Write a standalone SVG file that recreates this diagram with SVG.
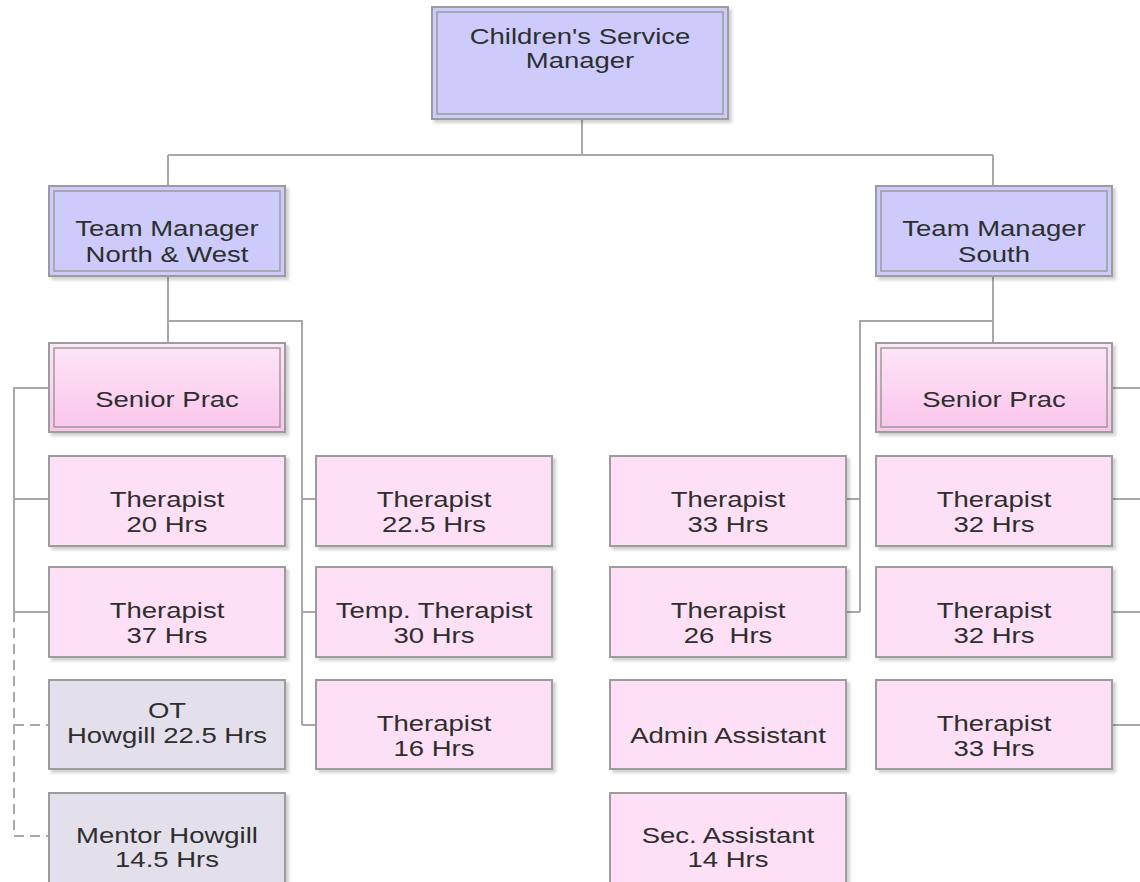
<svg xmlns="http://www.w3.org/2000/svg" width="1140" height="882" viewBox="0 0 1140 882">
<defs>
<filter id="sh" x="-5%" y="-5%" width="115%" height="120%">
<feDropShadow dx="3" dy="3" stdDeviation="1.5" flood-color="#000" flood-opacity="0.18"/>
</filter>
<linearGradient id="pinkg" x1="0" y1="0" x2="0" y2="1">
<stop offset="0" stop-color="#fde6f7"/>
<stop offset="1" stop-color="#fbc4ec"/>
</linearGradient>
</defs>
<style>
.blue{fill:#cdcbfb;stroke:#9c9c9c;stroke-width:2}
.blin{fill:none;stroke:#9c9c9c;stroke-width:1.5}
.pink{fill:#fde0f5;stroke:#9c9c9c;stroke-width:2}
.sp{fill:url(#pinkg);stroke:#9c9c9c;stroke-width:2}
.gray{fill:#e3e0ec;stroke:#9c9c9c;stroke-width:2}
.t{font-family:"Liberation Sans",Arial,sans-serif;font-size:22px;fill:#2e2e2e;text-anchor:middle}
.c{fill:none;stroke:#a8a8a8;stroke-width:2}
.d{fill:none;stroke:#a8a8a8;stroke-width:2;stroke-dasharray:10 6}
</style>
<rect width="1140" height="882" fill="#fff"/>
<g id="connectors">
<path class="c" d="M582 119V155M168 155H993M168 155V186M993 155V186"/>
<path class="c" d="M168 276V343M168 321H302V725M302 499H316M302 612H316M302 725H316"/>
<path class="c" d="M49 388H14V612M14 499H49M14 612H49"/>
<path class="d" d="M14 612V836M14 725H49M14 836H49"/>
<path class="c" d="M993 276V343M993 321H860V612M846 499H860M846 612H860"/>
<path class="c" d="M1112 388H1140M1112 499H1140M1112 612H1140M1112 725H1140"/>
</g>
<g id="n-csm">
<rect class="blue" x="432" y="7" width="296" height="112" filter="url(#sh)"/>
<rect class="blin" x="437" y="12" width="286" height="102"/>
<g transform="translate(580,0) scale(1.25,1)"><text class="t" x="0" y="44">Children's Service</text><text class="t" x="0" y="68">Manager</text></g>
</g>
<g id="n-tmnw">
<rect class="blue" x="49" y="186" width="236" height="90" filter="url(#sh)"/>
<rect class="blin" x="54" y="191" width="226" height="80"/>
<g transform="translate(167,0) scale(1.25,1)"><text class="t" x="0" y="236">Team Manager</text><text class="t" x="0" y="262">North &amp; West</text></g>
</g>
<g id="n-tms">
<rect class="blue" x="876" y="186" width="236" height="90" filter="url(#sh)"/>
<rect class="blin" x="881" y="191" width="226" height="80"/>
<g transform="translate(994,0) scale(1.25,1)"><text class="t" x="0" y="236">Team Manager</text><text class="t" x="0" y="262">South</text></g>
</g>
<g id="n-sp1">
<rect class="sp" x="49" y="343" width="236" height="89" filter="url(#sh)"/>
<rect class="blin" x="54" y="348" width="226" height="79"/>
<g transform="translate(167,0) scale(1.25,1)"><text class="t" x="0" y="407">Senior Prac</text></g>
</g>
<g id="n-sp2">
<rect class="sp" x="876" y="343" width="236" height="89" filter="url(#sh)"/>
<rect class="blin" x="881" y="348" width="226" height="79"/>
<g transform="translate(994,0) scale(1.25,1)"><text class="t" x="0" y="407">Senior Prac</text></g>
</g>
<g id="n-a1">
<rect class="pink" x="49" y="456" width="236" height="90" filter="url(#sh)"/>
<g transform="translate(167,0) scale(1.25,1)"><text class="t" x="0" y="507">Therapist</text><text class="t" x="0" y="532">20 Hrs</text></g>
</g>
<g id="n-a2">
<rect class="pink" x="49" y="567" width="236" height="90" filter="url(#sh)"/>
<g transform="translate(167,0) scale(1.25,1)"><text class="t" x="0" y="618">Therapist</text><text class="t" x="0" y="643">37 Hrs</text></g>
</g>
<g id="n-a3">
<rect class="gray" x="49" y="680" width="236" height="89" filter="url(#sh)"/>
<g transform="translate(167,0) scale(1.25,1)"><text class="t" x="0" y="718">OT</text><text class="t" x="0" y="743">Howgill 22.5 Hrs</text></g>
</g>
<g id="n-a4">
<rect class="gray" x="49" y="793" width="236" height="95" filter="url(#sh)"/>
<g transform="translate(167,0) scale(1.25,1)"><text class="t" x="0" y="843">Mentor Howgill</text><text class="t" x="0" y="867">14.5 Hrs</text></g>
</g>
<g id="n-b1">
<rect class="pink" x="316" y="456" width="236" height="90" filter="url(#sh)"/>
<g transform="translate(434,0) scale(1.25,1)"><text class="t" x="0" y="507">Therapist</text><text class="t" x="0" y="532">22.5 Hrs</text></g>
</g>
<g id="n-b2">
<rect class="pink" x="316" y="567" width="236" height="90" filter="url(#sh)"/>
<g transform="translate(434,0) scale(1.25,1)"><text class="t" x="0" y="618">Temp. Therapist</text><text class="t" x="0" y="643">30 Hrs</text></g>
</g>
<g id="n-b3">
<rect class="pink" x="316" y="680" width="236" height="89" filter="url(#sh)"/>
<g transform="translate(434,0) scale(1.25,1)"><text class="t" x="0" y="731">Therapist</text><text class="t" x="0" y="756">16 Hrs</text></g>
</g>
<g id="n-c1">
<rect class="pink" x="610" y="456" width="236" height="90" filter="url(#sh)"/>
<g transform="translate(728,0) scale(1.25,1)"><text class="t" x="0" y="507">Therapist</text><text class="t" x="0" y="532">33 Hrs</text></g>
</g>
<g id="n-c2">
<rect class="pink" x="610" y="567" width="236" height="90" filter="url(#sh)"/>
<g transform="translate(728,0) scale(1.25,1)"><text class="t" x="0" y="618">Therapist</text><text class="t" x="0" y="643" xml:space="preserve">26  Hrs</text></g>
</g>
<g id="n-c3">
<rect class="pink" x="610" y="680" width="236" height="89" filter="url(#sh)"/>
<g transform="translate(728,0) scale(1.25,1)"><text class="t" x="0" y="743">Admin Assistant</text></g>
</g>
<g id="n-c4">
<rect class="pink" x="610" y="793" width="236" height="95" filter="url(#sh)"/>
<g transform="translate(728,0) scale(1.25,1)"><text class="t" x="0" y="843">Sec. Assistant</text><text class="t" x="0" y="867">14 Hrs</text></g>
</g>
<g id="n-d1">
<rect class="pink" x="876" y="456" width="236" height="90" filter="url(#sh)"/>
<g transform="translate(994,0) scale(1.25,1)"><text class="t" x="0" y="507">Therapist</text><text class="t" x="0" y="532">32 Hrs</text></g>
</g>
<g id="n-d2">
<rect class="pink" x="876" y="567" width="236" height="90" filter="url(#sh)"/>
<g transform="translate(994,0) scale(1.25,1)"><text class="t" x="0" y="618">Therapist</text><text class="t" x="0" y="643">32 Hrs</text></g>
</g>
<g id="n-d3">
<rect class="pink" x="876" y="680" width="236" height="89" filter="url(#sh)"/>
<g transform="translate(994,0) scale(1.25,1)"><text class="t" x="0" y="731">Therapist</text><text class="t" x="0" y="756">33 Hrs</text></g>
</g>
</svg>
